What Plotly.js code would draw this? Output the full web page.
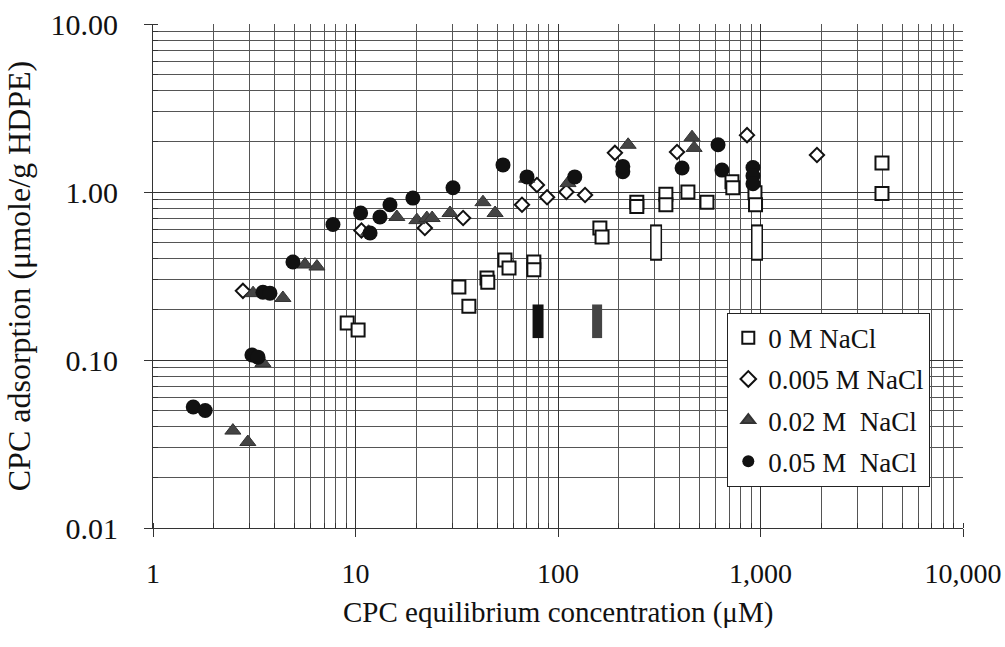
<!DOCTYPE html>
<html>
<head>
<meta charset="utf-8">
<script src="https://cdn.plot.ly/plotly-3.0.1.min.js"></script>
<style>html,body{margin:0;padding:0;background:#fff;}#chart{width:1005px;height:647px;}</style>
</head>
<body>
<div id="chart"></div>
<script>
// Series names
var seriesNames = ["0 M NaCl", "0.005 M NaCl", "0.02 M\u00a0 NaCl", "0.05 M\u00a0 NaCl"];

// 0 M NaCl (open squares)
var x0 = [9.1, 10.3, 32.4, 36.3, 44.6, 45.0, 54.7, 57.3, 76, 76, 161, 165, 245, 245, 341, 341, 438, 544, 723, 730, 939, 945, 3980, 3980];
var y0 = [0.166, 0.151, 0.272, 0.209, 0.308, 0.290, 0.394, 0.353, 0.383, 0.344, 0.61, 0.54, 0.87, 0.82, 0.97, 0.84, 1.00, 0.87, 1.15, 1.06, 0.99, 0.84, 1.49, 0.98];
// 0 M NaCl elongated markers
var x0p = [305, 961];
var y0p = [0.50, 0.50];

// 0.005 M NaCl (open diamonds)
var x1 = [2.78, 10.7, 22.0, 34.0, 66.4, 78.7, 88.3, 110, 136, 191, 387, 858, 1900];
var y1 = [0.258, 0.59, 0.61, 0.70, 0.84, 1.10, 0.93, 1.00, 0.96, 1.71, 1.73, 2.18, 1.66];

// 0.02 M NaCl (filled triangles)
var x2 = [2.48, 2.94, 3.12, 3.49, 4.38, 5.63, 6.45, 11.6, 16.0, 20.1, 22.5, 23.9, 29.3, 42.6, 48.9, 70, 112, 222, 459, 470];
var y2 = [0.038, 0.0325, 0.25, 0.096, 0.234, 0.37, 0.36, 0.58, 0.71, 0.68, 0.70, 0.70, 0.75, 0.87, 0.75, 1.20, 1.13, 1.91, 2.12, 1.83];
var x2p = [156];
var y2p = [0.17];

// 0.05 M NaCl (filled circles)
var x3 = [1.58, 1.81, 3.08, 3.30, 3.49, 3.78, 4.91, 7.74, 10.6, 11.8, 13.2, 14.8, 19.2, 30.3, 53.5, 70.3, 121, 209, 209, 410, 617, 645, 918, 918, 918];
var y3 = [0.0525, 0.050, 0.107, 0.104, 0.253, 0.25, 0.383, 0.64, 0.75, 0.57, 0.71, 0.84, 0.92, 1.06, 1.45, 1.23, 1.23, 1.32, 1.42, 1.39, 1.91, 1.35, 1.40, 1.25, 1.12];
var x3p = [79.7];
var y3p = [0.17];

// Axis ticks
var xTickVals = [1, 10, 100, 1000, 10000];
var xTickText = ["1", "10", "100", "1,000", "10,000"];
var yTickVals = [0.01, 0.1, 1, 10];
var yTickText = ["0.01", "0.10", "1.00", "10.00"];

var xTitle = "CPC equilibrium concentration (\u03bcM)";
var yTitle = "CPC adsorption (\u03bcmole/g HDPE)";

var FONT = "Liberation Serif, Times New Roman, serif";

var traces = [
  {x: x0p, y: y0p, type: "scatter", mode: "markers", showlegend: false, hoverinfo: "skip",
   marker: {symbol: "line-ns", size: 26, line: {width: 12, color: "#111"}}},
  {x: x0p, y: y0p, type: "scatter", mode: "markers", showlegend: false, hoverinfo: "skip",
   marker: {symbol: "line-ns", size: 23, line: {width: 9, color: "#fff"}}},
  {x: x2p, y: y2p, type: "scatter", mode: "markers", showlegend: false, hoverinfo: "skip",
   marker: {symbol: "line-ns", size: 24, line: {width: 10, color: "#444"}}},
  {x: x3p, y: y3p, type: "scatter", mode: "markers", showlegend: false, hoverinfo: "skip",
   marker: {symbol: "line-ns", size: 24, line: {width: 11, color: "#111"}}},
  {x: x0, y: y0, name: seriesNames[0], legendgroup: "a", type: "scatter", mode: "markers",
   marker: {symbol: "square", size: 13, color: "#fff", line: {width: 2, color: "#111"}}},
  {x: x1, y: y1, name: seriesNames[1], legendgroup: "b", type: "scatter", mode: "markers",
   marker: {symbol: "diamond", size: 11, color: "#fff", line: {width: 2, color: "#111"}}},
  {x: x2, y: y2, name: seriesNames[2], legendgroup: "c", type: "scatter", mode: "markers",
   marker: {symbol: "triangle-up", size: 14, color: "#444", line: {width: 1, color: "#333"}}},
  {x: x3, y: y3, name: seriesNames[3], legendgroup: "d", type: "scatter", mode: "markers",
   marker: {symbol: "circle", size: 15, color: "#111", line: {width: 0}}}
];

var layout = {
  width: 1005, height: 647,
  margin: {l: 153, r: 42, t: 24, b: 119},
  paper_bgcolor: "#fff", plot_bgcolor: "#fff",
  font: {family: FONT, size: 29, color: "#111"},
  showlegend: true,
  legend: {
    x: 0.709, y: 0.427, xanchor: "left", yanchor: "top",
    bgcolor: "#fff", bordercolor: "#222", borderwidth: 1,
    font: {family: FONT, size: 27, color: "#111"},
    itemsizing: "constant", itemwidth: 30, tracegroupgap: 3
  },
  annotations: [{
    text: xTitle, xref: "paper", yref: "paper", x: 0.5, y: -0.167,
    xanchor: "center", yanchor: "middle", showarrow: false,
    font: {family: FONT, size: 29, color: "#111"}
  }],
  xaxis: {
    type: "log", range: [0, 4],
    tickvals: xTickVals, ticktext: xTickText,
    tickfont: {family: FONT, size: 28, color: "#111"},
    ticklabeloverflow: "allow",
    ticks: "outside", ticklen: 8, tickcolor: "#333", ticklabelstandoff: 12,
    showline: true, linecolor: "#333", linewidth: 1,
    showgrid: true, gridcolor: "#333", gridwidth: 1,
    minor: {dtick: "D1", showgrid: true, gridcolor: "#555", gridwidth: 1, ticks: "inside", ticklen: 5, tickcolor: "#333"},
    zeroline: false
  },
  yaxis: {
    type: "log", range: [-2, 1],
    tickvals: yTickVals, ticktext: yTickText,
    tickfont: {family: FONT, size: 30, color: "#111"},
    ticklabeloverflow: "allow",
    ticks: "outside", ticklen: 8, tickcolor: "#333", ticklabelstandoff: 20,
    showline: true, linecolor: "#333", linewidth: 1,
    showgrid: true, gridcolor: "#333", gridwidth: 1,
    minor: {dtick: "D1", showgrid: true, gridcolor: "#555", gridwidth: 1, ticks: "inside", ticklen: 5, tickcolor: "#333"},
    zeroline: false,
    title: {text: yTitle, font: {family: FONT, size: 32, color: "#111"}, standoff: 10}
  }
};

Plotly.newPlot("chart", traces, layout, {displayModeBar: false, staticPlot: true});
</script>
</body>
</html>
